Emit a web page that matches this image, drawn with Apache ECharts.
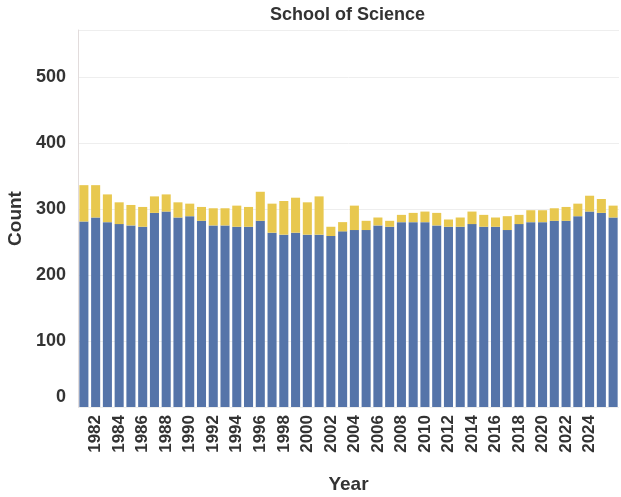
<!DOCTYPE html>
<html>
<head>
<meta charset="utf-8">
<script src="https://cdn.jsdelivr.net/npm/echarts@6/dist/echarts.min.js"></script>
<style>
  html, body { margin: 0; padding: 0; background: #ffffff; }
  #chart { width: 621px; height: 497px; }
</style>
</head>
<body>
<div id="chart"></div>
<script>
// Enrolment counts per year, split into the two stacked groups
const years = [
  1981, 1982, 1983, 1984, 1985, 1986, 1987, 1988, 1989, 1990,
  1991, 1992, 1993, 1994, 1995, 1996, 1997, 1998, 1999, 2000,
  2001, 2002, 2003, 2004, 2005, 2006, 2007, 2008, 2009, 2010,
  2011, 2012, 2013, 2014, 2015, 2016, 2017, 2018, 2019, 2020,
  2021, 2022, 2023, 2024, 2025, 2026
];
const baseCounts = [
  281, 287, 280, 277, 275, 273, 294, 296, 287, 289,
  282, 275, 275, 273, 273, 282, 264, 261, 264, 261,
  261, 259, 266, 268, 268, 275, 273, 280, 280, 280,
  275, 273, 273, 277, 273, 273, 268, 277, 280, 280,
  282, 282, 289, 296, 294, 287
];
const extraCounts = [
  55, 49, 42, 33, 31, 30, 25, 26, 23, 19,
  21, 26, 26, 32, 30, 44, 44, 51, 53, 49,
  58, 14, 14, 37, 14, 12, 9, 11, 14, 16,
  19, 11, 14, 19, 18, 14, 21, 14, 18, 18,
  19, 21, 19, 24, 21, 18
];
const yTicks = [0, 100, 200, 300, 400, 500];

const textColor = '#333333';
const fontFamily = 'Liberation Sans, Arial, sans-serif';

const chart = echarts.init(document.getElementById('chart'), null, { renderer: 'canvas' });
chart.setOption({
  backgroundColor: '#ffffff',
  animation: false,
  title: {
    text: 'School of Science',
    left: 265,
    top: 1,
    textStyle: { fontFamily, fontSize: 18, fontWeight: 'bold', color: textColor }
  },
  grid: { left: 78, right: 2, top: 30, bottom: 90, outerBoundsMode: 'none', containLabel: false },
  xAxis: {
    type: 'category',
    data: years.map(String),
    name: 'Year',
    nameLocation: 'middle',
    nameGap: 68,
    nameTextStyle: { fontFamily, fontSize: 19, fontWeight: 'bold', color: textColor },
    axisLine: { show: false },
    axisTick: { show: false },
    axisLabel: {
      rotate: 90,
      margin: 8,
      fontFamily,
      fontSize: 17,
      fontWeight: 'bold',
      color: textColor,
      interval: (idx, val) => Number(val) % 2 === 0 && Number(val) <= 2024
    }
  },
  yAxis: {
    type: 'value',
    min: 0,
    max: 571,
    interval: 100,
    name: 'Count',
    nameLocation: 'middle',
    nameGap: 53,
    nameTextStyle: { fontFamily, fontSize: 19, fontWeight: 'bold', color: textColor },
    axisLine: { show: true, lineStyle: { color: '#e2dcdc', width: 1 } },
    axisTick: { show: false },
    splitLine: { show: true, lineStyle: { color: '#eeeeee', width: 1 } },
    axisLabel: {
      margin: 12,
      showMaxLabel: false,
      fontFamily,
      fontSize: 18,
      fontWeight: 'bold',
      color: textColor,
      formatter: v => (yTicks.indexOf(v) === 0 ? '{z|' + v + '}' : String(v)),
      rich: {
        z: { fontFamily, fontSize: 18, fontWeight: 'bold', color: textColor, padding: [0, 0, 20, 0] }
      }
    }
  },
  series: [
    {
      name: 'Base',
      type: 'bar',
      stack: 'total',
      data: baseCounts,
      barCategoryGap: '23%',
      itemStyle: { color: '#5574a9' }
    },
    {
      name: 'Extra',
      type: 'bar',
      stack: 'total',
      data: extraCounts,
      barCategoryGap: '23%',
      itemStyle: { color: '#e8c84f' }
    }
  ]
});
</script>
</body>
</html>
